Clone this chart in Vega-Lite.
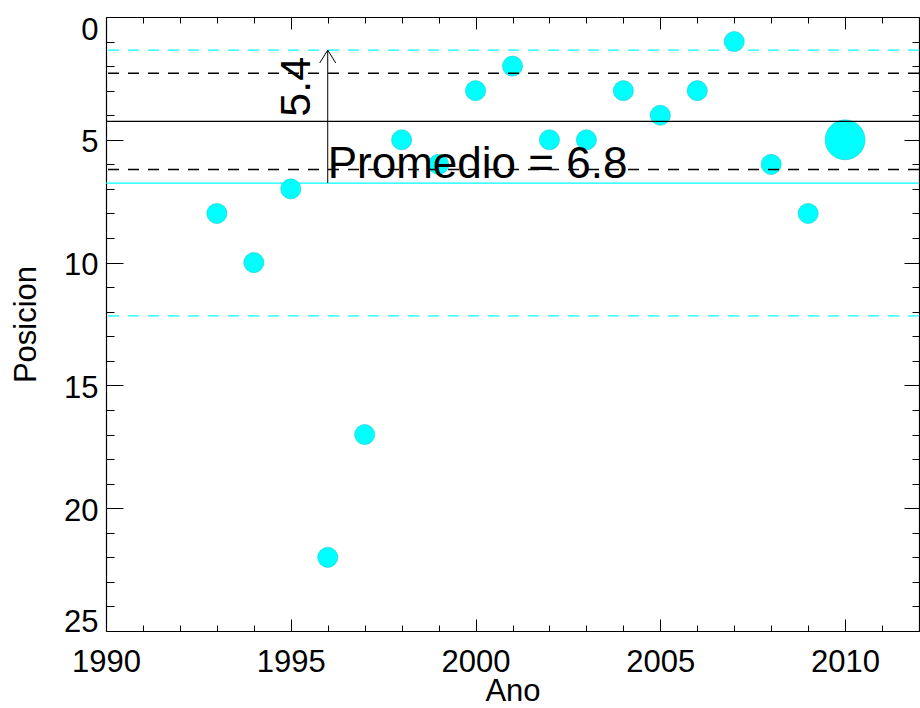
{
  "$schema": "https://vega.github.io/schema/vega-lite/v6.json",
  "autosize": "none",
  "width": 813,
  "height": 614,
  "padding": {"left": 106, "top": 17, "right": 1, "bottom": 77},
  "background": "white",
  "config": {
    "view": {"stroke": null},
    "axis": {
      "grid": false,
      "domainColor": "#000000",
      "domainWidth": 1.2,
      "tickColor": "#000000",
      "tickWidth": 1,
      "labelFont": "Liberation Sans",
      "labelFontSize": 31,
      "labelColor": "#000000",
      "titleFont": "Liberation Sans",
      "titleFontSize": 31,
      "titleFontWeight": "normal",
      "titleColor": "#000000",
      "labelOverlap": false,
      "labelBound": false,
      "labelFlush": false
    },
    "text": {"font": "Liberation Sans"}
  },
  "datasets": {
    "puntos": [
      {"ano": 1993, "posicion": 8, "tipo": "anterior"},
      {"ano": 1994, "posicion": 10, "tipo": "anterior"},
      {"ano": 1995, "posicion": 7, "tipo": "anterior"},
      {"ano": 1996, "posicion": 22, "tipo": "anterior"},
      {"ano": 1997, "posicion": 17, "tipo": "anterior"},
      {"ano": 1998, "posicion": 5, "tipo": "anterior"},
      {"ano": 1999, "posicion": 6, "tipo": "anterior"},
      {"ano": 2000, "posicion": 3, "tipo": "anterior"},
      {"ano": 2001, "posicion": 2, "tipo": "anterior"},
      {"ano": 2002, "posicion": 5, "tipo": "anterior"},
      {"ano": 2003, "posicion": 5, "tipo": "anterior"},
      {"ano": 2004, "posicion": 3, "tipo": "anterior"},
      {"ano": 2005, "posicion": 4, "tipo": "anterior"},
      {"ano": 2006, "posicion": 3, "tipo": "anterior"},
      {"ano": 2007, "posicion": 1, "tipo": "anterior"},
      {"ano": 2008, "posicion": 6, "tipo": "anterior"},
      {"ano": 2009, "posicion": 8, "tipo": "anterior"},
      {"ano": 2010, "posicion": 5, "tipo": "actual"}
    ],
    "niveles": [
      {"nivel": 6.76, "serie": "promedio"},
      {"nivel": 1.35, "serie": "promedio ± sigma"},
      {"nivel": 12.17, "serie": "promedio ± sigma"},
      {"nivel": 4.25, "serie": "reciente"},
      {"nivel": 2.29, "serie": "reciente ± sigma"},
      {"nivel": 6.21, "serie": "reciente ± sigma"}
    ],
    "flecha": [
      {"ano": 1996, "desde": 6.76, "hasta": 1.35}
    ],
    "promedio": [
      {"ano": 1996, "posicion": 6.76, "texto": "Promedio = 6.8"}
    ],
    "sigma": [
      {"ano": 1996, "posicion": 4.06, "texto": "5.4"}
    ]
  },
  "resolve": {"axis": {"x": "independent", "y": "independent"}},
  "layer": [
    {
      "data": {"name": "puntos"},
      "mark": {"type": "point", "filled": true, "color": "#00ffff", "stroke": "#20c8c8", "strokeWidth": 0.6, "opacity": 1},
      "encoding": {
        "x": {
          "field": "ano", "type": "quantitative",
          "scale": {"domain": [1990, 2012], "nice": false, "zero": false},
          "axis": {
            "orient": "bottom",
            "title": "Ano",
            "values": [1990,1991,1992,1993,1994,1995,1996,1997,1998,1999,2000,2001,2002,2003,2004,2005,2006,2007,2008,2009,2010,2011,2012],
            "format": "d",
            "labelExpr": "datum.value % 5 === 0 ? datum.label : ''",
            "tickSize": {"condition": {"test": "datum.value % 5 === 0", "value": -12}, "value": -6},
            "labelPadding": 28,
            "titleBaseline": "alphabetic",
            "titleY": 69
          }
        },
        "y": {
          "field": "posicion", "type": "quantitative",
          "scale": {"domain": [0, 25], "nice": false, "zero": false, "reverse": true},
          "axis": {
            "orient": "left",
            "title": "Posicion",
            "values": [0,1,2,3,4,5,6,7,8,9,10,11,12,13,14,15,16,17,18,19,20,21,22,23,24,25],
            "format": "d",
            "labelExpr": "datum.value % 5 === 0 ? datum.label : ''",
            "tickSize": {"condition": {"test": "datum.value % 5 === 0", "value": -17}, "value": -8},
            "labelPadding": 25,
            "labelBaseline": "alphabetic",
            "labelOffset": {"condition": [{"test": "datum.value === 0", "value": 22}, {"test": "datum.value === 25", "value": 0}], "value": 12},
            "titleBaseline": "alphabetic",
            "titleX": -71
          }
        },
        "size": {
          "field": "tipo", "type": "ordinal",
          "scale": {"domain": ["anterior", "actual"], "range": [405, 1590]},
          "legend": null
        }
      }
    },
    {
      "data": {"name": "niveles"},
      "mark": {"type": "rule", "strokeWidth": 1.3},
      "encoding": {
        "y": {
          "field": "nivel", "type": "quantitative",
          "axis": {
            "orient": "right",
            "title": null,
            "labels": false,
            "values": [0,1,2,3,4,5,6,7,8,9,10,11,12,13,14,15,16,17,18,19,20,21,22,23,24,25],
            "tickSize": {"condition": {"test": "datum.value % 5 === 0", "value": -15}, "value": -7}
          }
        },
        "color": {
          "field": "serie", "type": "nominal",
          "scale": {"domain": ["promedio", "promedio ± sigma", "reciente", "reciente ± sigma"], "range": ["#00ffff", "#00ffff", "#000000", "#000000"]},
          "legend": null
        },
        "strokeDash": {
          "field": "serie", "type": "nominal",
          "scale": {"domain": ["promedio", "promedio ± sigma", "reciente", "reciente ± sigma"], "range": [[1, 0], [11, 9], [1, 0], [11, 9]]},
          "legend": null
        }
      }
    },
    {
      "data": {"name": "flecha"},
      "mark": {"type": "rule", "color": "#000000", "strokeWidth": 1},
      "encoding": {
        "x": {
          "field": "ano", "type": "quantitative",
          "axis": {
            "orient": "top",
            "title": null,
            "labels": false,
            "values": [1990,1991,1992,1993,1994,1995,1996,1997,1998,1999,2000,2001,2002,2003,2004,2005,2006,2007,2008,2009,2010,2011,2012],
            "tickSize": {"condition": {"test": "datum.value % 5 === 0", "value": -12}, "value": -6}
          }
        },
        "y": {"field": "desde", "type": "quantitative", "axis": null},
        "y2": {"field": "hasta"}
      }
    },
    {
      "data": {"name": "flecha"},
      "mark": {"type": "point", "shape": "M-1,1.6L0,0L1,1.6", "filled": false, "stroke": "#000000", "strokeWidth": 1, "size": 256, "opacity": 1},
      "encoding": {
        "x": {"field": "ano", "type": "quantitative", "axis": null},
        "y": {"field": "hasta", "type": "quantitative", "axis": null}
      }
    },
    {
      "data": {"name": "promedio"},
      "mark": {"type": "text", "align": "left", "baseline": "alphabetic", "fontSize": 44, "color": "#000000", "dx": 0, "dy": -5},
      "encoding": {
        "x": {"field": "ano", "type": "quantitative", "axis": null},
        "y": {"field": "posicion", "type": "quantitative", "axis": null},
        "text": {"field": "texto"}
      }
    },
    {
      "data": {"name": "sigma"},
      "mark": {"type": "text", "align": "left", "baseline": "alphabetic", "angle": 270, "fontSize": 43, "color": "#000000", "dx": 0, "dy": -18},
      "encoding": {
        "x": {"field": "ano", "type": "quantitative", "axis": null},
        "y": {"field": "posicion", "type": "quantitative", "axis": null},
        "text": {"field": "texto"}
      }
    }
  ]
}
